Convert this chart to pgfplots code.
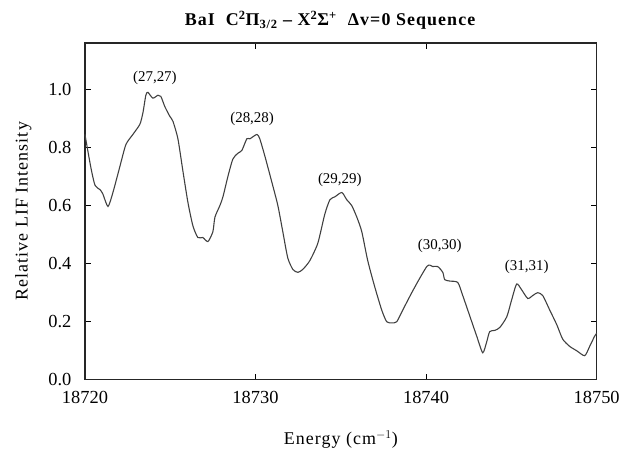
\documentclass[border=0pt]{standalone}
\usepackage{pgfplots}
\pgfplotsset{compat=1.18}
\usepackage{fontspec}
\setmainfont{Liberation Serif}
\newfontfamily\lsfont[LetterSpace=6]{Liberation Serif}
\begin{document}
\begin{tikzpicture}
\begin{axis}[
  name=ax,
  scale only axis,
  width=512bp, height=337bp,
  xmin=18720, xmax=18750, ymin=0, ymax=1.16,
  xtick={18720,18730,18740,18750},
  ytick={0,0.2,0.4,0.6,0.8,1.0},
  scaled x ticks=false,
  tick align=inside,
  major tick length=6bp,
  tick style={line width=1pt, black},
  axis line style={line width=1.2pt, black!85},
  /pgf/number format/assume math mode=true,
  xticklabel style={/pgf/number format/set thousands separator={}, font=\fontsize{18.5}{20}\selectfont, yshift=-8bp},
  yticklabel style={/pgf/number format/.cd, fixed, fixed zerofill, precision=1, /tikz/.cd, font=\fontsize{18.5}{20}\selectfont, xshift=-10bp},
  xlabel={Energy (cm$^{-1}$)},
  ylabel={Relative LIF Intensity},
  xlabel style={font=\lsfont\fontsize{18}{20}\selectfont, yshift=-20bp},
  ylabel style={font=\lsfont\fontsize{18}{20}\selectfont, yshift=10bp},
  title={\textbf{BaI\ \ C\textsuperscript{2}Π\textsubscript{3/2} – X\textsuperscript{2}Σ\textsuperscript{+}\ \ Δv=0 Sequence}},
  title style={font=\lsfont\fontsize{18}{20}\selectfont, at={(0.48,1)}, yshift=4bp},
  clip=false,
]
\addplot[black!75, line width=1.1pt, smooth, tension=0.4] coordinates {
(18720.00,0.845) (18720.35,0.73) (18720.59,0.67) (18720.88,0.655) (18721.05,0.64)
(18721.35,0.597) (18721.64,0.645) (18722.05,0.735) (18722.40,0.81) (18722.81,0.845)
(18723.22,0.88) (18723.40,0.92) (18723.57,0.98) (18723.69,0.99) (18723.98,0.97)
(18724.28,0.98) (18724.45,0.976) (18724.69,0.94) (18724.98,0.907) (18725.16,0.89)
(18725.45,0.83) (18725.74,0.72) (18726.04,0.61) (18726.33,0.53) (18726.62,0.49)
(18726.91,0.49) (18727.21,0.476) (18727.50,0.51) (18727.62,0.56) (18727.91,0.60)
(18728.09,0.63) (18728.38,0.70) (18728.67,0.76) (18728.96,0.78) (18729.20,0.79)
(18729.49,0.83) (18729.67,0.83) (18730.08,0.845) (18730.25,0.83) (18730.55,0.77)
(18730.96,0.68) (18731.31,0.60) (18731.60,0.51) (18731.89,0.42) (18732.19,0.38)
(18732.48,0.37) (18732.77,0.38) (18733.18,0.41) (18733.65,0.47) (18734.06,0.57)
(18734.36,0.62) (18734.65,0.63) (18735.06,0.645) (18735.35,0.62) (18735.64,0.60)
(18735.94,0.56) (18736.23,0.51) (18736.58,0.41) (18736.99,0.32) (18737.40,0.24)
(18737.69,0.20) (18737.99,0.196) (18738.28,0.20) (18738.63,0.24) (18739.16,0.30)
(18739.63,0.35) (18740.04,0.39) (18740.21,0.395) (18740.39,0.39) (18740.68,0.39)
(18740.98,0.37) (18741.09,0.345) (18741.39,0.34) (18741.86,0.335) (18742.15,0.29)
(18742.56,0.22) (18742.97,0.15) (18743.32,0.093) (18743.55,0.13) (18743.73,0.166)
(18744.02,0.17) (18744.32,0.18) (18744.73,0.217) (18745.02,0.276) (18745.31,0.33)
(18745.60,0.31) (18745.96,0.28) (18746.25,0.29) (18746.54,0.30) (18746.84,0.29)
(18747.25,0.24) (18747.66,0.19) (18748.01,0.14) (18748.42,0.115) (18748.83,0.10)
(18749.30,0.083) (18749.59,0.115) (18749.88,0.15) (18750.00,0.16)
};
\node[font=\fontsize{15}{17}\selectfont] at (axis cs:18724.1,1.04) {(27,27)};
\node[font=\fontsize{15}{17}\selectfont] at (axis cs:18729.8,0.90) {(28,28)};
\node[font=\fontsize{15}{17}\selectfont] at (axis cs:18734.94,0.69) {(29,29)};
\node[font=\fontsize{15}{17}\selectfont] at (axis cs:18740.8,0.46) {(30,30)};
\node[font=\fontsize{15}{17}\selectfont] at (axis cs:18745.9,0.39) {(31,31)};
\end{axis}
\path ([xshift=-85bp,yshift=-73bp]ax.south west) rectangle ([xshift=26bp,yshift=43bp]ax.north east);
\end{tikzpicture}
\end{document}
